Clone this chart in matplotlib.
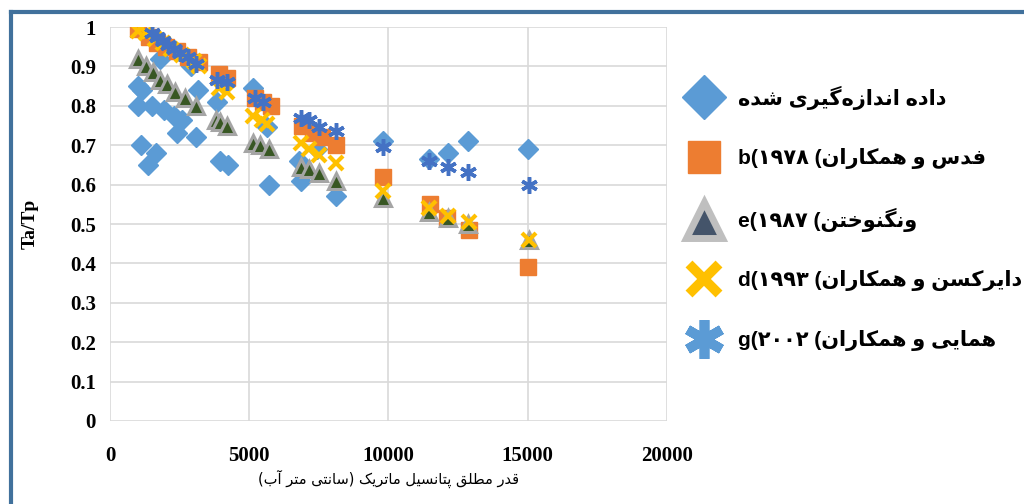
import numpy as np
import matplotlib
matplotlib.use("Agg")
import matplotlib.pyplot as plt
from matplotlib.lines import Line2D

# measured data (Ta/Tp vs |matric potential|, cm water)
x_meas = [1000, 1150, 1000, 1100, 1350, 1650, 1500, 1950, 2300, 2600, 2400, 3100, 1800, 2900,
          3150, 3850, 3950, 4250, 5150, 5650, 5700, 6800, 6850, 7450, 8100, 9800, 11450, 12150,
          12850, 15000]
y_meas = [0.85, 0.84, 0.80, 0.70, 0.65, 0.68, 0.80, 0.79, 0.775, 0.765, 0.73, 0.72, 0.92, 0.90,
          0.84, 0.81, 0.66, 0.65, 0.845, 0.745, 0.60, 0.66, 0.61, 0.69, 0.57, 0.71, 0.665, 0.68,
          0.71, 0.69]

# b: Feddes et al. (1978)
x_b = [1000, 1400, 1700, 2000, 2400, 2800, 3200, 3900, 4200, 5200, 5500, 5800, 6900, 7300, 7600,
       8100, 9800, 11500, 12100, 12900, 15000]
y_b = [0.995, 0.975, 0.96, 0.95, 0.94, 0.925, 0.91, 0.88, 0.87, 0.82, 0.81, 0.80, 0.75, 0.73, 0.72,
       0.70, 0.62, 0.55, 0.515, 0.485, 0.39]

# e: van Genuchten (1987)
x_e = [1000, 1300, 1550, 1800, 2050, 2350, 2700, 3100, 3800, 3950, 4200, 5150, 5400, 5700, 6850,
       7150, 7500, 8100, 9800, 11450, 12150, 12850, 15050]
y_e = [0.92, 0.90, 0.885, 0.865, 0.855, 0.835, 0.82, 0.80, 0.765, 0.76, 0.75, 0.705, 0.70, 0.69,
       0.645, 0.64, 0.63, 0.61, 0.565, 0.53, 0.515, 0.50, 0.46]

# d: Dirksen et al. (1993)
x_d = [1000, 1300, 1600, 1900, 2200, 2600, 3000, 3200, 3900, 4200, 5150, 5450, 5650, 6850, 7150,
       7500, 8100, 9800, 11450, 12150, 12900, 15050]
y_d = [0.99, 0.985, 0.97, 0.96, 0.945, 0.93, 0.915, 0.90, 0.845, 0.835, 0.775, 0.765, 0.755, 0.705,
       0.69, 0.675, 0.655, 0.585, 0.54, 0.52, 0.505, 0.46]

# g: Homaee et al. (2002)
x_g = [1500, 1700, 1900, 2100, 2300, 2500, 2800, 3100, 3850, 4200, 5200, 5500, 6850, 7150, 7500,
       8100, 9800, 11450, 12150, 12850, 15050]
y_g = [0.985, 0.975, 0.965, 0.955, 0.945, 0.935, 0.925, 0.905, 0.865, 0.86, 0.82, 0.81, 0.77, 0.765,
       0.745, 0.735, 0.695, 0.66, 0.645, 0.632, 0.60]

names = ["داده اندازه\u200cگیری شده", "فدس و همکاران", "ونگنوختن", "دایرکسن و همکاران", "همایی و همکاران"]
years = ["", "۱۹۷۸", "۱۹۸۷", "۱۹۹۳", "۲۰۰۲"]
tags = ["", "b", "e", "d", "g"]
xlabel = "قدر مطلق پتانسیل ماتریک (سانتی متر آب)"

# minimal arabic shaping (matplotlib does no joining / bidi)
DUAL = {'ب': 0xFE8F, 'پ': 0xFB56, 'ت': 0xFE95, 'ث': 0xFE99, 'ج': 0xFE9D, 'چ': 0xFB7A, 'ح': 0xFEA1,
        'خ': 0xFEA5, 'س': 0xFEB1, 'ش': 0xFEB5, 'ص': 0xFEB9, 'ض': 0xFEBD, 'ط': 0xFEC1, 'ظ': 0xFEC5,
        'ع': 0xFEC9, 'غ': 0xFECD, 'ف': 0xFED1, 'ق': 0xFED5, 'ک': 0xFB8E, 'گ': 0xFB92, 'ل': 0xFEDD,
        'م': 0xFEE1, 'ن': 0xFEE5, 'ه': 0xFEE9, 'ی': 0xFBFC}
RIGHT = {'ا': 0xFE8D, 'آ': 0xFE81, 'د': 0xFEA9, 'ذ': 0xFEAB, 'ر': 0xFEAD, 'ز': 0xFEAF, 'ژ': 0xFB8A,
         'و': 0xFEED}

def rtl(s):
    out = []
    for i, c in enumerate(s):
        if c == '\u200c':
            continue
        if c in DUAL or c in RIGHT:
            prev = s[i-1] if i > 0 else ''
            nxt = s[i+1] if i+1 < len(s) else ''
            jp = prev in DUAL
            jn = c in DUAL and (nxt in DUAL or nxt in RIGHT)
            base = DUAL.get(c, RIGHT.get(c))
            k = 3 if (jp and jn) else 1 if jp else 2 if jn else 0
            out.append(chr(base + k))
        else:
            out.append(c)
    return ''.join(reversed(out)).translate(str.maketrans('()', ')('))

labels = [rtl(names[0])]
for i in range(1, 5):
    labels.append(tags[i] + "(" + years[i] + " (" + rtl(names[i]))

fig = plt.figure(figsize=(10.24, 5.04), dpi=100)
ax = fig.add_axes([0.1074, 0.1647, 0.5439, 0.7817])

c_meas = "#5B9BD5"
c_b = "#ED7D31"
c_e = "#385723"
c_d = "#FFC000"
c_g = "#4472C4"
star = (6, 2, 0)

ax.plot(x_meas, y_meas, ls="None", marker="D", ms=10, color=c_meas, mec=c_meas, zorder=3)
ax.plot(x_b, y_b, ls="None", marker="s", ms=11, color=c_b, mec=c_b, zorder=4)
ax.plot(x_e, y_e, ls="None", marker="^", ms=11, mfc=c_e, mec="#A5A5A5", mew=2.2, zorder=5)
ax.plot(x_d, y_d, ls="None", marker="x", ms=10, mec=c_d, mew=3, zorder=6)
ax.plot(x_g, y_g, ls="None", marker=star, ms=12, mec=c_g, mew=2.5, zorder=7)

ax.set_xlim(0, 20000)
ax.set_ylim(0, 1)
ax.set_xticks(np.arange(0, 20001, 5000))
ax.set_yticks(np.arange(0, 1.01, 0.1))
ax.set_yticklabels(["0"] + ["%.1f" % v for v in np.arange(0.1, 0.95, 0.1)] + ["1"])
ax.grid(True, color="#D9D9D9", lw=1.2)
ax.set_axisbelow(True)
for sp in ax.spines.values():
    sp.set_visible(False)
ax.tick_params(length=0)
ax.tick_params(axis="x", pad=18)
ax.tick_params(axis="y", pad=10)
for t in ax.get_xticklabels() + ax.get_yticklabels():
    t.set_fontfamily("Liberation Serif")
    t.set_fontweight("bold")
    t.set_fontsize(15)
ax.set_ylabel("Ta/Tp", fontfamily="Liberation Serif", fontweight="bold", fontsize=14)
ax.yaxis.set_label_coords(-0.128, 0.5)
ax.set_xlabel(rtl(xlabel), fontfamily="DejaVu Sans", fontsize=10.5, labelpad=3)

handles = [
    Line2D([], [], ls="None", marker="D", ms=22, color=c_meas),
    Line2D([], [], ls="None", marker="s", ms=23, color=c_b),
    Line2D([], [], ls="None", marker="^", ms=26, mfc="#44546A", mec="#BFBFBF", mew=5),
    Line2D([], [], ls="None", marker="x", ms=22, mec=c_d, mew=7),
    Line2D([], [], ls="None", marker=star, ms=28, mec="#5B9BD5", mew=7),
]
fig.legend(handles, labels, loc="center left", bbox_to_anchor=(0.655, 0.567), frameon=False,
           prop={"family": ["Liberation Sans", "DejaVu Sans"], "weight": "bold", "size": 15},
           labelspacing=1.85, handlelength=2.2, handletextpad=0.55, borderpad=0)

# blue chart frame (left and top)
fig.add_artist(Line2D([0.0105, 0.0105], [0, 0.977], color="#41719C", lw=3))
fig.add_artist(Line2D([0.0105, 1.0], [0.977, 0.977], color="#41719C", lw=3))

fig.savefig("out.png", dpi=100)
